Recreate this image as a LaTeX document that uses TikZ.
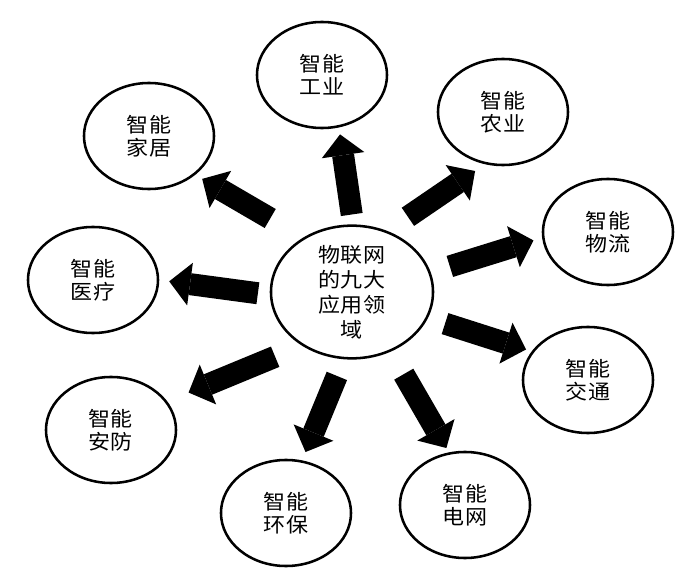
\documentclass[tikz,border=0pt]{standalone}
\usepackage{fontspec}
\newfontfamily\cjk[FakeStretch=1.08]{Noto Sans CJK SC}
\usepackage{tikz}
\usetikzlibrary{shapes.geometric, arrows.meta}

\begin{document}
\begin{tikzpicture}[x=0.025cm, y=-0.025cm,
    main/.style = {draw, ellipse, line width=1.8pt, inner sep=0pt, align=center, minimum width=3.25cm, minimum height=2.65cm, font=\cjk\fontsize{14.5}{16.4}\selectfont},
    hub/.style = {main, minimum width=4.05cm, minimum height=3.2cm, font=\cjk\fontsize{14.5}{17.8}\selectfont},
    bigarrow/.style = {line width=0.55cm, -{Triangle[width=1.075cm, length=0.525cm, line width=0pt]}}]
    \useasboundingbox (0,0) rectangle (700,578);

    % 节点
    \node[hub] (wlw) at (352,292) {物联网\\的九大\\应用领\\域};
    \node[main] (gongye) at (322,75) {智能\\工业};
    \node[main] (jiaju) at (149,136) {智能\\家居};
    \node[main] (nongye) at (503,112) {智能\\农业};
    \node[main] (wuliu) at (608,232) {智能\\物流};
    \node[main] (yiliao) at (93,280) {智能\\医疗};
    \node[main] (jiaotong) at (588,380) {智能\\交通};
    \node[main] (anfang) at (111,430) {智能\\安防};
    \node[main] (huanbao) at (286,513) {智能\\环保};
    \node[main] (dianwang) at (465,505) {智能\\电网};

    % 箭头
    \draw[bigarrow, shorten <=0.25cm, shorten >=0.175cm] (wlw.89) -- (gongye.-72);
    \draw[bigarrow, shorten <=0.95cm, shorten >=0.2cm] (wlw.132) -- (jiaju.-40);
    \draw[bigarrow, shorten <=0.625cm, shorten >=0.3cm] (wlw.60) -- (nongye.-109);
    \draw[bigarrow, shorten <=0.5cm, shorten >=0.225cm] (wlw.14) -- (wuliu.185);
    \draw[bigarrow, shorten <=0.3cm, shorten >=0.25cm] (wlw.182) -- (yiliao.0);
    \draw[bigarrow, shorten <=0.45cm, shorten >=0.15cm] (wlw.-19) -- (jiaotong.153);
    \draw[bigarrow, shorten <=0.725cm, shorten >=0.575cm] (wlw.227) -- (anfang.27);
    \draw[bigarrow, shorten <=0.45cm, shorten >=0.225cm] (wlw.263) -- (huanbao.73);
    \draw[bigarrow, shorten <=0.65cm, shorten >=0.125cm] (wlw.-57) -- (dianwang.107);
\end{tikzpicture}
\end{document}
